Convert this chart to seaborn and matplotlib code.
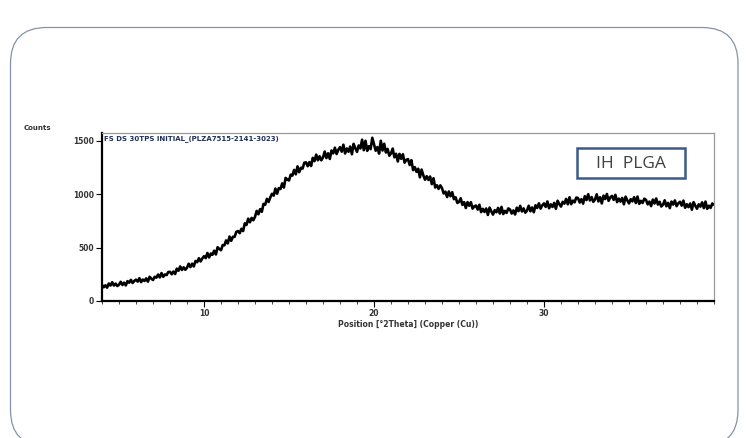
import numpy as np
import pandas as pd
import seaborn as sns
import matplotlib.pyplot as plt
from matplotlib.patches import FancyBboxPatch, Rectangle
from matplotlib.transforms import IdentityTransform
from matplotlib.ticker import MultipleLocator

# 2Theta scan, 4 to 40 deg in 0.1 deg steps
two_theta = np.round(np.arange(4.0, 40.001, 0.1), 1)
counts = [
    151, 129, 147, 125, 164, 145, 176, 145, 163, 140,
    153, 180, 150, 172, 146, 186, 172, 198, 169, 188,
    200, 182, 214, 177, 201, 188, 212, 181, 227, 210,
    197, 227, 219, 248, 221, 262, 227, 249, 243, 272,
    273, 251, 276, 253, 303, 284, 324, 291, 316, 293,
    312, 349, 318, 350, 324, 375, 364, 401, 371, 399,
    420, 402, 450, 408, 445, 434, 472, 436, 504, 488,
    476, 524, 522, 568, 540, 604, 564, 602, 601, 648,
    656, 636, 677, 656, 728, 713, 772, 738, 779, 757,
    789, 845, 813, 861, 836, 910, 903, 958, 928, 971,
    1005, 988, 1054, 1006, 1058, 1050, 1103, 1064, 1154, 1139,
    1130, 1184, 1176, 1229, 1188, 1262, 1207, 1249, 1242, 1296,
    1300, 1264, 1302, 1266, 1342, 1311, 1372, 1320, 1357, 1319,
    1346, 1401, 1340, 1385, 1332, 1411, 1384, 1437, 1378, 1417,
    1442, 1400, 1465, 1383, 1430, 1399, 1448, 1376, 1473, 1433,
    1398, 1458, 1430, 1512, 1414, 1502, 1408, 1451, 1424, 1530,
    1470, 1409, 1443, 1382, 1502, 1411, 1474, 1392, 1426, 1362,
    1384, 1429, 1347, 1380, 1308, 1379, 1333, 1376, 1297, 1323,
    1330, 1275, 1320, 1227, 1255, 1211, 1240, 1159, 1232, 1179,
    1137, 1170, 1135, 1167, 1096, 1151, 1064, 1085, 1051, 1084,
    1058, 1008, 1025, 975, 1027, 982, 1020, 955, 972, 920,
    928, 963, 901, 927, 872, 927, 893, 926, 866, 887,
    895, 857, 902, 833, 864, 835, 867, 807, 876, 840,
    810, 852, 832, 873, 820, 882, 815, 845, 826, 868,
    858, 820, 849, 811, 875, 842, 892, 839, 868, 828,
    848, 893, 841, 877, 832, 897, 873, 916, 866, 897,
    915, 882, 933, 869, 906, 882, 920, 865, 940, 909,
    885, 930, 913, 957, 907, 972, 908, 941, 925, 970,
    965, 923, 955, 913, 983, 946, 1001, 943, 974, 930,
    951, 1000, 934, 973, 915, 988, 956, 1003, 939, 972,
    985, 948, 995, 927, 960, 932, 966, 907, 978, 943,
    915, 955, 934, 973, 919, 979, 911, 939, 919, 959,
    948, 906, 932, 890, 951, 914, 961, 904, 930, 886,
    903, 944, 888, 920, 871, 932, 904, 943, 889, 916,
    930, 894, 941, 874, 907, 880, 914, 856, 927, 893,
    865, 906, 885, 925, 871, 932, 864, 893, 873, 914,
    903,
]
y_ticks = [0, 500, 1000, 1500]
x_ticks = [10, 20, 30]
scan_title = "FS DS 30TPS INITIAL_(PLZA7515-2141-3023)"
sample_label = "IH  PLGA"

df = pd.DataFrame({"two_theta": two_theta, "counts": counts})

sns.set_style("white")
fig = plt.figure(figsize=(7.46, 4.38), dpi=100)

# slide frame with rounded corners (drawn in pixel space)
frame = FancyBboxPatch((10.5, -8), 727.5, 418.5,
                       boxstyle="round,pad=0,rounding_size=36",
                       transform=IdentityTransform(), fill=False,
                       edgecolor="#8593a8", linewidth=0.9)
fig.patches.append(frame)

ax = fig.add_axes([102 / 746, (438 - 301) / 438, 612 / 746, 168 / 438])
sns.lineplot(data=df, x="two_theta", y="counts", ax=ax, color="black",
             linewidth=1.9, estimator=None)

ax.set_xlim(4, 40)
ax.set_ylim(0, 1575)
ax.set_xticks(x_ticks)
ax.xaxis.set_minor_locator(MultipleLocator(1))
ax.set_yticks(y_ticks)
ax.tick_params(axis="both", which="major", direction="out", length=4,
               width=0.8, labelsize=5.5, colors="black", pad=2, left=True, bottom=True)
ax.tick_params(axis="x", which="minor", direction="out", length=2.5,
               width=0.6, bottom=True)
for lab in ax.get_xticklabels() + ax.get_yticklabels():
    lab.set_fontweight("bold")
    lab.set_color("#333333")

ax.set_xlabel("Position [\u00b02Theta] (Copper (Cu))", fontsize=5.5,
              fontweight="bold", color="#333333", labelpad=1)
ax.set_ylabel("")

for side in ["left", "bottom"]:
    ax.spines[side].set_color("black")
    ax.spines[side].set_linewidth(1.6)
for side in ["top", "right"]:
    ax.spines[side].set_color("#999999")
    ax.spines[side].set_linewidth(0.9)

fig.text(24 / 746, 1 - 128 / 438, "Counts", fontsize=5, fontweight="bold",
         color="#333333", va="center", ha="left")
ax.text(0.003, 0.99, scan_title, transform=ax.transAxes, fontsize=5,
        fontweight="bold", color="#22305a", va="top", ha="left")

# sample label box
ax.add_patch(Rectangle((0.776, 0.732), 0.177, 0.179, transform=ax.transAxes,
                       facecolor="white", edgecolor="#3b5a8a", linewidth=1.8,
                       zorder=5))
ax.text(0.864, 0.818, sample_label, transform=ax.transAxes, fontsize=12.5,
        family="Open Sans", color="#404040", ha="center", va="center",
        zorder=6)

fig.savefig("out.png", dpi=100)
